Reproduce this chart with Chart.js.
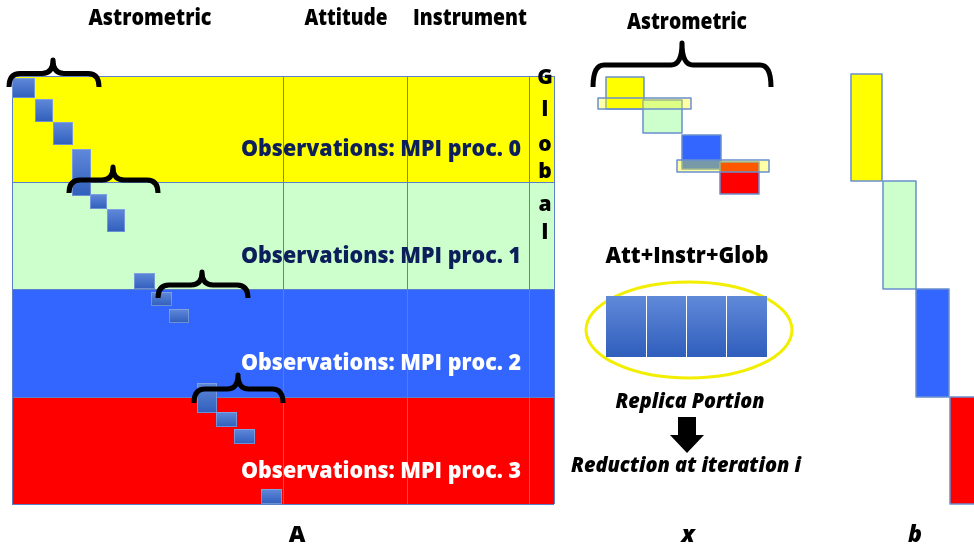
<!DOCTYPE html>
<html>
<head>
<meta charset="utf-8">
<script src="https://cdn.jsdelivr.net/npm/chart.js@4.4.0/dist/chart.umd.min.js"></script>
<style>
html,body{margin:0;padding:0;background:#fff;overflow:hidden}
</style>
</head>
<body>
<canvas id="diagram" width="974" height="548"></canvas>
<script>
// ++++++++++++++++++++ DATA (diagram units, origin top-left) ++++++++++++++++++++

const rowLabels = ['Observations: MPI proc. 0', 'Observations: MPI proc. 1', 'Observations: MPI proc. 2', 'Observations: MPI proc. 3'];
const rowEdges = [76, 182, 289, 397, 504];
const rowColors = ['#FFFF00', '#CCFFCC', '#3366FF', '#FF0000'];
const rowTextColors = ['#0C1F5B', '#0C1F5B', '#FFFFFF', '#FFFFFF'];
const rowTextY = [149, 256, 363, 471];

const colEdges = [12, 283, 407, 529, 554];
const headerLabels = ['Astrometric', 'Attitude', 'Instrument'];
const headerX = [150, 346, 470];

const globalLetters = ['G', 'l', 'o', 'b', 'a', 'l'];
const globalY = [78, 110, 145, 172, 205, 233];

// astrometric blocks of A: [x0, x1, y0, y1]
const astroBlocks = [
    [12, 35, 78, 98], [35, 53, 99, 122], [53, 73, 122, 145], [72, 91, 149, 196],
    [90, 107, 194, 209], [107, 125, 209, 232],
    [134, 155, 273, 289], [151, 172, 292, 306], [169, 189, 309, 323],
    [197, 217, 383, 413], [216, 237, 412, 427], [234, 255, 429, 444],
    [261, 282, 489, 504]
];

// braces: [x0, x1, xPeak, yTop, yBottom]
const braces = [
    [9, 99, 53, 60, 87],
    [69, 158, 113, 167, 193],
    [158, 248, 202, 272, 298],
    [194, 283, 238, 375, 403],
    [593, 771, 682, 43, 87]
];

// x vector
const xBlocks = [[606, 644, 77, 109], [643, 682, 100, 133], [682, 721, 135, 169], [720, 759, 162, 194]];
const xBands = [[598, 691, 98, 109], [677, 769, 160, 172]];
const replicaX = [[606, 646], [647, 686], [687, 726], [727, 767]];
const replicaY = [296, 357];

// b vector
const bBlocks = [[851, 882, 74, 181], [883, 916, 181, 289], [916, 949, 289, 397], [950, 980, 397, 504]];

const footLabels = ['A', 'x', 'b'];
const footX = [297, 688, 915];


// ++++++++++++++++++++ DRAWING PLUGIN ++++++++++++++++++++

const FONT = '"Open Sans", Lato, "DejaVu Sans", sans-serif';

function blueGradient(ctx, y0, y1) {
    let g = ctx.createLinearGradient(0, y0, 0, y1);
    g.addColorStop(0, '#6089D9');
    g.addColorStop(1, '#2F5EBC');
    return g;
}

// text squeezed/stretched to the width it has in the picture
function fitText(ctx, text, x, y, w) {
    let m = ctx.measureText(text).width;
    ctx.save();
    ctx.translate(x, y);
    ctx.scale(w / m, 1);
    ctx.fillText(text, 0, 0);
    ctx.restore();
}

function drawBrace(ctx, x0, x1, xm, yt, yb) {
    let ym = yt + (yb - yt) * 0.5;
    let h = 11;
    ctx.beginPath();
    ctx.moveTo(x0, yb);
    ctx.quadraticCurveTo(x0, ym, x0 + h, ym);
    ctx.lineTo(xm - h, ym);
    ctx.quadraticCurveTo(xm, ym, xm, yt);
    ctx.quadraticCurveTo(xm, ym, xm + h, ym);
    ctx.lineTo(x1 - h, ym);
    ctx.quadraticCurveTo(x1, ym, x1, yb);
    ctx.stroke();
}

const diagramPlugin = {
    id: 'diagram',
    afterDraw(chart) {
        const ctx = chart.ctx;
        const X = v => chart.scales.x.getPixelForValue(v);
        const Y = v => chart.scales.y.getPixelForValue(v);
        ctx.save();

        // matrix rows
        for (let i = 0; i < rowColors.length; i++) {
            ctx.fillStyle = rowColors[i];
            ctx.fillRect(X(colEdges[0]), Y(rowEdges[i]), X(colEdges[colEdges.length - 1]) - X(colEdges[0]), Y(rowEdges[i + 1]) - Y(rowEdges[i]));
        }
        ctx.strokeStyle = '#5B80C8';
        ctx.lineWidth = 1;
        for (let i = 0; i < rowEdges.length; i++) {
            ctx.beginPath();
            ctx.moveTo(X(colEdges[0]), Y(rowEdges[i]) + 0.5);
            ctx.lineTo(X(colEdges[colEdges.length - 1]), Y(rowEdges[i]) + 0.5);
            ctx.stroke();
        }
        for (let i = 0; i < colEdges.length; i++) {
            ctx.beginPath();
            ctx.moveTo(X(colEdges[i]) + 0.5, Y(rowEdges[0]));
            ctx.lineTo(X(colEdges[i]) + 0.5, Y(rowEdges[rowEdges.length - 1]));
            ctx.stroke();
        }

        // astrometric blocks
        ctx.strokeStyle = 'rgba(150,175,225,0.6)';
        astroBlocks.forEach(b => {
            ctx.fillStyle = blueGradient(ctx, Y(b[2]), Y(b[3]));
            ctx.fillRect(X(b[0]), Y(b[2]), X(b[1]) - X(b[0]), Y(b[3]) - Y(b[2]));
            ctx.strokeRect(X(b[0]) + 0.5, Y(b[2]) + 0.5, X(b[1]) - X(b[0]) - 1, Y(b[3]) - Y(b[2]) - 1);
        });

        // row texts
        ctx.font = '800 23px ' + FONT;
        ctx.textAlign = 'center';
        ctx.textBaseline = 'middle';
        for (let i = 0; i < rowLabels.length; i++) {
            ctx.fillStyle = rowTextColors[i];
            fitText(ctx, rowLabels[i], X(381), Y(rowTextY[i]), 280);
        }

        // Global letters
        ctx.fillStyle = '#000';
        ctx.font = '800 21px ' + FONT;
        globalLetters.forEach((l, i) => ctx.fillText(l, X(545), Y(globalY[i])));

        // headers
        ctx.font = '800 22px ' + FONT;
        const headerW = [123, 83, 114];
        headerLabels.forEach((l, i) => fitText(ctx, l, X(headerX[i]), Y(19), headerW[i]));
        fitText(ctx, 'Astrometric', X(687), Y(23), 120);
        fitText(ctx, 'Att+Instr+Glob', X(687), Y(257), 163);

        // braces
        ctx.strokeStyle = '#000';
        ctx.lineWidth = 5;
        ctx.lineCap = 'butt';
        ctx.lineJoin = 'round';
        braces.forEach(b => drawBrace(ctx, X(b[0]), X(b[1]), X(b[2]), Y(b[3]), Y(b[4])));

        // x vector blocks
        ctx.lineWidth = 1.5;
        ctx.strokeStyle = '#6A8FD0';
        xBlocks.forEach((b, i) => {
            ctx.fillStyle = rowColors[i];
            ctx.fillRect(X(b[0]), Y(b[2]), X(b[1]) - X(b[0]), Y(b[3]) - Y(b[2]));
            ctx.strokeRect(X(b[0]), Y(b[2]), X(b[1]) - X(b[0]), Y(b[3]) - Y(b[2]));
        });
        xBands.forEach(b => {
            ctx.fillStyle = 'rgba(255,255,0,0.34)';
            ctx.fillRect(X(b[0]), Y(b[2]), X(b[1]) - X(b[0]), Y(b[3]) - Y(b[2]));
            ctx.strokeRect(X(b[0]), Y(b[2]), X(b[1]) - X(b[0]), Y(b[3]) - Y(b[2]));
        });

        // replica portion
        ctx.strokeStyle = '#F2EE00';
        ctx.lineWidth = 3;
        ctx.beginPath();
        ctx.ellipse(X(689), Y(330), X(792) - X(689), Y(378) - Y(330), 0, 0, Math.PI * 2);
        ctx.stroke();
        ctx.strokeStyle = '#C8D4EC';
        ctx.lineWidth = 1;
        replicaX.forEach(r => {
            ctx.fillStyle = blueGradient(ctx, Y(replicaY[0]), Y(replicaY[1]));
            ctx.fillRect(X(r[0]), Y(replicaY[0]), X(r[1]) - X(r[0]), Y(replicaY[1]) - Y(replicaY[0]));
        });

        ctx.fillStyle = '#000';
        ctx.font = 'italic 800 21px ' + FONT;
        fitText(ctx, 'Replica Portion', X(690), Y(402), 149);
        fitText(ctx, 'Reduction at iteration i', X(686), Y(466), 230);

        // arrow
        ctx.beginPath();
        ctx.moveTo(X(678), Y(417));
        ctx.lineTo(X(696), Y(417));
        ctx.lineTo(X(696), Y(435));
        ctx.lineTo(X(704), Y(435));
        ctx.lineTo(X(687), Y(453));
        ctx.lineTo(X(670), Y(435));
        ctx.lineTo(X(678), Y(435));
        ctx.closePath();
        ctx.fill();

        // b vector
        ctx.strokeStyle = '#6A8FD0';
        ctx.lineWidth = 1.5;
        bBlocks.forEach((b, i) => {
            ctx.fillStyle = rowColors[i];
            ctx.fillRect(X(b[0]), Y(b[2]), X(b[1]) - X(b[0]), Y(b[3]) - Y(b[2]));
            ctx.strokeRect(X(b[0]), Y(b[2]), X(b[1]) - X(b[0]), Y(b[3]) - Y(b[2]));
        });

        // footer
        ctx.fillStyle = '#000';
        ctx.font = '800 23px ' + FONT;
        ctx.fillText(footLabels[0], X(footX[0]), Y(535));
        ctx.font = 'italic 800 23px ' + FONT;
        ctx.fillText(footLabels[1], X(footX[1]), Y(535));
        ctx.fillText(footLabels[2], X(footX[2]), Y(535));

        ctx.restore();
    }
};


// ++++++++++++++++++++ CHART ++++++++++++++++++++

var canvas = document.getElementById('diagram').getContext('2d');
var diagram = new Chart(canvas, {
    type: 'scatter',
    data: { datasets: [{ data: [], showLine: false }] },
    options: {
        responsive: false,
        animation: false,
        events: [],
        layout: { padding: 0 },
        plugins: { legend: { display: false }, tooltip: { enabled: false } },
        scales: {
            x: { type: 'linear', min: 0, max: 974, display: false },
            y: { type: 'linear', min: 0, max: 548, reverse: true, display: false }
        }
    },
    plugins: [diagramPlugin]
});
</script>
</body>
</html>
